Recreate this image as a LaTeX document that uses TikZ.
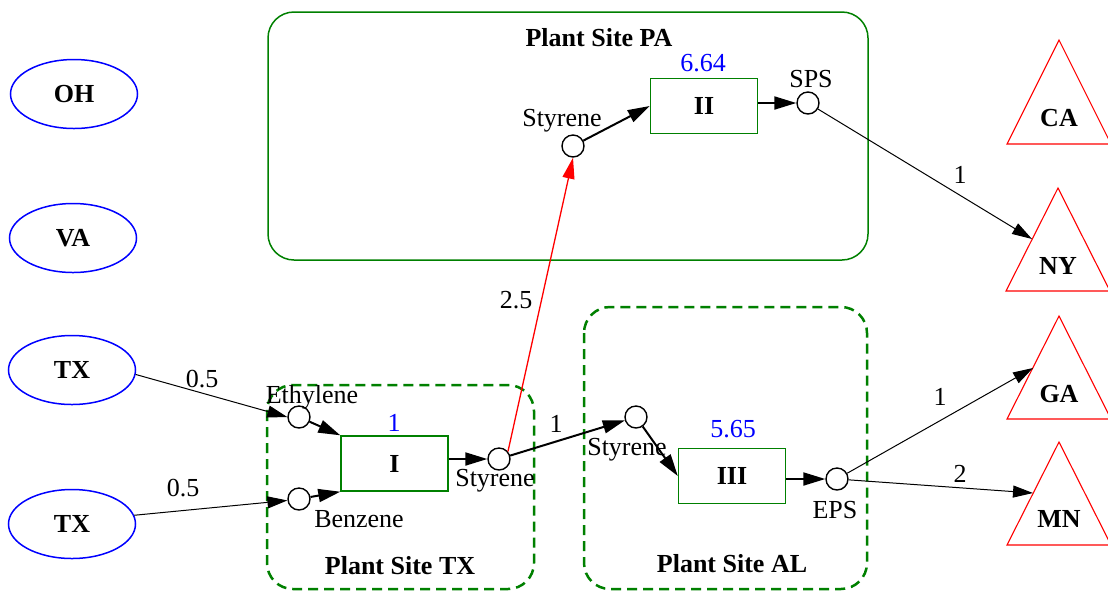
\documentclass[tikz,border=0pt]{standalone}
\usepackage{fontspec}
\setmainfont{Liberation Serif}
\usetikzlibrary{arrows.meta,shapes.geometric}
\definecolor{gvgreen}{RGB}{0,128,0}
\begin{document}
\begin{tikzpicture}[x=0.5pt,y=-0.5pt,
  every node/.style={font=\fontsize{13}{15}\selectfont},
  circ/.style={circle,draw,line width=0.7pt,minimum size=11pt,inner sep=0pt},
  proc/.style={rectangle,draw=gvgreen,line width=0.7pt,minimum width=53.5pt,minimum height=27.5pt,inner sep=0pt,font=\fontsize{13}{15}\selectfont\bfseries},
  state/.style={ellipse,draw=blue,line width=0.75pt,minimum width=63.5pt,minimum height=34.5pt,inner sep=0pt,font=\fontsize{13}{15}\selectfont\bfseries},
  tri/.style={draw=red,line width=0.55pt},
  lbl/.style={anchor=base,inner sep=0pt},
  blbl/.style={anchor=base,inner sep=0pt,font=\fontsize{13}{15}\selectfont\bfseries},
  num/.style={anchor=base,inner sep=0pt,text=blue},
  clsolid/.style={draw=gvgreen,line width=0.75pt,rounded corners=13pt},
  cldash/.style={draw=gvgreen,line width=1.25pt,dash pattern=on 5pt off 3pt,rounded corners=13pt},
  thinarrow/.style={-{Triangle[length=10pt,width=6pt]},line width=0.5pt},
  thickarrow/.style={-{Triangle[length=11pt,width=6.5pt]},line width=1pt},
  redarrow/.style={-{Triangle[length=10.5pt,width=6pt]},line width=0.65pt,draw=red,fill=red},
]
\useasboundingbox (0,0) rectangle (1108,591);

% clusters
\draw[clsolid] (268,12) rectangle (868,260);
\draw[cldash] (267,385) rectangle (534,589);
\draw[cldash] (584,307) rectangle (867,589);
\node[blbl] (lpa) at (599,46) {Plant Site PA};
\node[blbl] (ltx) at (400,574) {Plant Site TX};
\node[blbl] (lal) at (732,572) {Plant Site AL};

% left states
\node[state] (oh) at (74,94) {OH};
\node[state] (va) at (73,238) {VA};
\node[state] (tx1) at (72,370) {TX};
\node[state] (tx2) at (72,524) {TX};

% right triangles
\draw[tri] (1059,40) -- (1111,144) -- (1007,144) -- cycle;
\draw[tri] (1058,188) -- (1110,291) -- (1006,291) -- cycle;
\draw[tri] (1059,316) -- (1111,419) -- (1007,419) -- cycle;
\draw[tri] (1059,442) -- (1111,545) -- (1007,545) -- cycle;
\node[blbl] (ca) at (1059,126) {CA};
\node[blbl] (ny) at (1058,274) {NY};
\node[blbl] (ga) at (1059,402) {GA};
\node[blbl] (mn) at (1059,527) {MN};
\coordinate (nyin) at (1032,239);
\coordinate (gain) at (1033,368);
\coordinate (mnin) at (1033,493);

% process boxes
\node[proc] (pI) at (394.5,463.5) {I};
\node[proc] (pII) at (704,106) {II};
\node[proc] (pIII) at (732,476) {III};
\node[num] (nI) at (394,431) {1};
\node[num] (nII) at (703,71) {6.64};
\node[num] (nIII) at (733,437) {5.65};

% small circles
\node[circ] (eth) at (299,417) {};
\node[circ] (ben) at (299,499) {};
\node[circ] (sty1) at (499,459) {};
\node[circ] (sty2) at (636,417) {};
\node[circ] (eps) at (837,479) {};
\node[circ] (sty3) at (573,146) {};
\node[circ] (sps) at (808,103) {};
\node[lbl] (leth) at (312,403) {Ethylene};
\node[lbl] (lben) at (359,527) {Benzene};
\node[lbl] (lsty1) at (495,486) {Styrene};
\node[lbl] (lsty2) at (627,455) {Styrene};
\node[lbl] (leps) at (835,518) {EPS};
\node[lbl] (lsty3) at (562,126) {Styrene};
\node[lbl] (lsps) at (811,87) {SPS};

% edges
\draw[thinarrow] (tx1.-4) -- (eth.180);
\node[lbl] (e1) at (202,387) {0.5};
\draw[thinarrow] (tx2.8) -- (ben.187);
\node[lbl] (e2) at (183,496) {0.5};
\draw[thickarrow] (eth) -- (pI.north west);
\draw[thickarrow] (ben) -- (pI.south west);
\draw[thickarrow] (pI.east |- sty1) -- (sty1);
\draw[thickarrow] (sty1) -- (sty2);
\node[lbl] (e3) at (556,432) {1};
\draw[thickarrow] (sty2) -- (pIII.west);
\draw[thickarrow] (pIII.east |- eps) -- (eps);
\draw[thinarrow] (eps) -- (gain);
\node[lbl] (e4) at (940,405) {1};
\draw[thinarrow] (eps) -- (mnin);
\node[lbl] (e5) at (960,482) {2};
\draw[redarrow] (sty1.40) -- (sty3.south);
\node[lbl] (e6) at (516,308) {2.5};
\draw[thickarrow] (sty3) -- (pII.west);
\draw[thickarrow] (pII.east |- sps) -- (sps);
\draw[thinarrow] (sps) -- (nyin);
\node[lbl] (e7) at (960,183) {1};
\end{tikzpicture}
\end{document}
